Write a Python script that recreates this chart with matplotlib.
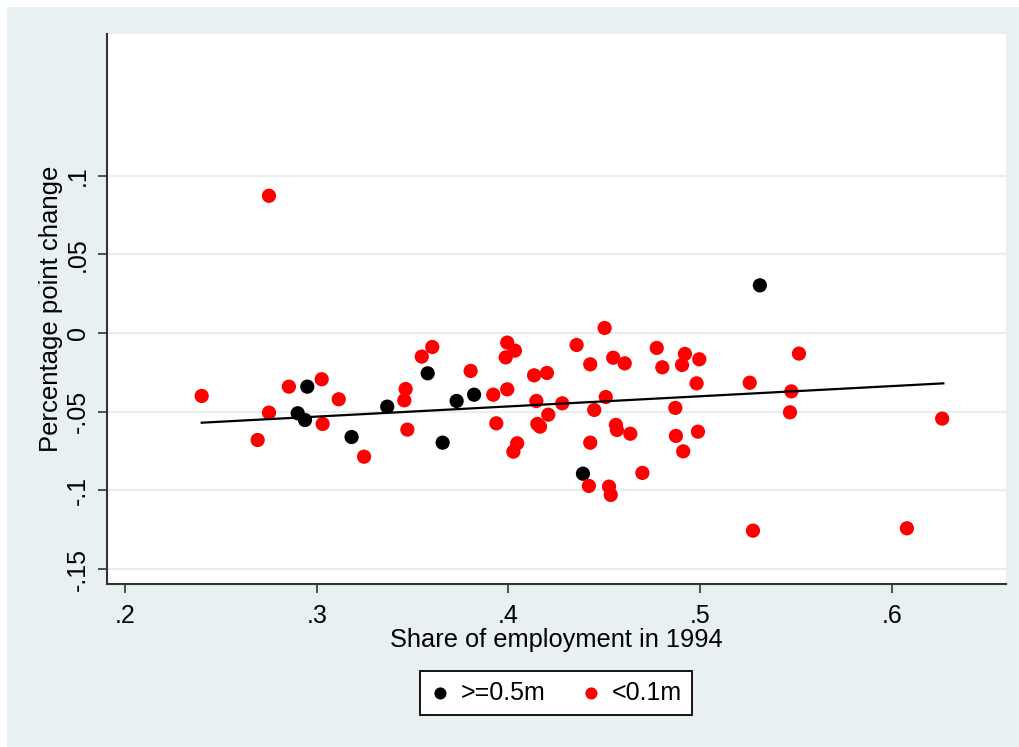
import matplotlib
matplotlib.use("Agg")
import matplotlib.pyplot as plt
from matplotlib.patches import Rectangle
import numpy as np

plt.rcParams['font.family'] = ['Liberation Sans', 'DejaVu Sans']

# ---- data ----
big_x = [0.2901, 0.2939, 0.2951, 0.3182, 0.3368, 0.3579, 0.3657, 0.3730, 0.3821, 0.4389, 0.5312]
big_y = [-0.0510, -0.0553, -0.0341, -0.0661, -0.0468, -0.0256, -0.0697, -0.0432, -0.0392, -0.0894, 0.0303]

small_x = [0.2400, 0.2692, 0.2751, 0.2751, 0.2855, 0.3026, 0.3031, 0.3115, 0.3247, 0.3457,
           0.3464, 0.3473, 0.3548, 0.3603, 0.3803, 0.3921, 0.3937, 0.3986, 0.3994, 0.3994,
           0.4026, 0.4034, 0.4046, 0.4134, 0.4146, 0.4151, 0.4165, 0.4201, 0.4208, 0.4281,
           0.4356, 0.4420, 0.4427, 0.4427, 0.4448, 0.4502, 0.4508, 0.4525, 0.4534, 0.4547,
           0.4561, 0.4566, 0.4607, 0.4636, 0.4699, 0.4774, 0.4803, 0.4871, 0.4874, 0.4906,
           0.4912, 0.4921, 0.4982, 0.4989, 0.4996, 0.5259, 0.5276, 0.5469, 0.5476, 0.5516,
           0.6079, 0.6263]
small_y = [-0.0400, -0.0680, -0.0506, 0.0872, -0.0341, -0.0294, -0.0578, -0.0421, -0.0786, -0.0428,
           -0.0356, -0.0614, -0.0150, -0.0089, -0.0241, -0.0392, -0.0574, -0.0155, -0.0061, -0.0358,
           -0.0754, -0.0112, -0.0701, -0.0269, -0.0432, -0.0578, -0.0595, -0.0254, -0.0519, -0.0447,
           -0.0076, -0.0972, -0.0199, -0.0697, -0.0489, 0.0032, -0.0407, -0.0976, -0.1029, -0.0157,
           -0.0584, -0.0616, -0.0193, -0.0640, -0.0889, -0.0095, -0.0218, -0.0476, -0.0654, -0.0203,
           -0.0752, -0.0133, -0.0320, -0.0627, -0.0167, -0.0316, -0.1256, -0.0504, -0.0371, -0.0131,
           -0.1241, -0.0544]

fit_x = [0.2400, 0.6269]
fit_y = [-0.0570, -0.0320]

x_ticks = [0.2, 0.3, 0.4, 0.5, 0.6]
x_tick_labels = ['.2', '.3', '.4', '.5', '.6']
y_ticks = [-0.15, -0.1, -0.05, 0.0, 0.05, 0.1]
y_tick_labels = ['-.15', '-.1', '-.05', '0', '.05', '.1']
legend_labels = ['>=0.5m', '<0.1m']

# ---- figure ----
W, H = 1020, 747
fig = plt.figure(figsize=(W / 100, H / 100), dpi=100)
fig.patch.set_facecolor('white')
bg = '#E8F0F2'
fig.add_artist(Rectangle((7 / W, 0), 1, (H - 7) / H, transform=fig.transFigure,
                         facecolor=bg, edgecolor='none', zorder=0))

ax = fig.add_axes([107 / W, (H - 584) / H, (1006 - 107) / W, (584 - 34) / H])
ax.set_facecolor('white')
ax.set_zorder(1)

ax.scatter(big_x, big_y, s=105, color='black', edgecolors='none', zorder=3, label=legend_labels[0])
ax.scatter(small_x, small_y, s=105, color='#FF0000', edgecolors='none', zorder=3, label=legend_labels[1])
ax.plot(fit_x, fit_y, color='black', lw=1.6, zorder=4)

ax.set_xlim(0.1906, 0.6596)
ax.set_ylim(-0.1595, 0.19)
ax.set_xticks(x_ticks)
ax.set_xticklabels(x_tick_labels)
ax.set_yticks(y_ticks)
ax.set_yticklabels(y_tick_labels, rotation=90, va='center')

for s in ['top', 'right']:
    ax.spines[s].set_visible(False)
for s in ['left', 'bottom']:
    ax.spines[s].set_color('#333333')
    ax.spines[s].set_linewidth(1.5)

ax.grid(axis='y', color='#E6EEF1', lw=1.6, zorder=0)
ax.set_axisbelow(True)
ax.tick_params(axis='both', direction='out', length=6.5, width=1.2, color='#333333',
               labelsize=18, labelcolor='black')
ax.tick_params(axis='x', pad=8)
ax.tick_params(axis='y', pad=6)

ax.set_xlabel('Share of employment in 1994', fontsize=18.3, labelpad=0)
ax.set_ylabel('Percentage point change', fontsize=18.5, labelpad=2)

leg = fig.legend(loc='center', bbox_to_anchor=(556 / W, 1 - 693 / H), ncol=2,
                 frameon=True, fancybox=False, edgecolor='black', facecolor='white',
                 framealpha=1, fontsize=18, markerscale=0.85, handlelength=0.8,
                 handletextpad=0.4, columnspacing=1.45, borderpad=0.4)
leg.get_frame().set_linewidth(1.3)

fig.savefig('out.png', dpi=100, facecolor=fig.get_facecolor())
